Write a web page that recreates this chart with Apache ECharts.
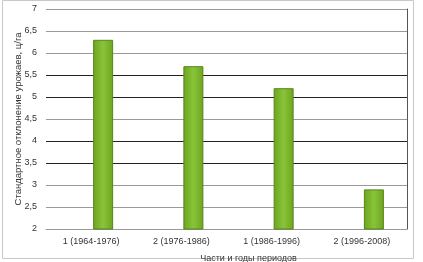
<!DOCTYPE html>
<html><head><meta charset="utf-8">
<script src="https://cdn.jsdelivr.net/npm/echarts@6/dist/echarts.min.js"></script>
<style>html,body{margin:0;padding:0;background:#fff}#c{width:423px;height:262px}</style>
</head><body><div id="c"></div>
<script>
const categories = ['1 (1964-1976)', '2 (1976-1986)', '1 (1986-1996)', '2 (1996-2008)'];
const values = [6.3, 5.7, 5.2, 2.9];
const emptySeries = [null, null, null, null];
const yTicks = [2, 2.5, 3, 3.5, 4, 4.5, 5, 5.5, 6, 6.5, 7];
const gridColors = ['#999','#999','#999','#222','#222','#999','#222','#222','#999','#999','#999'];

const chart = echarts.init(document.getElementById('c'));
const font = 'Liberation Sans';
chart.setOption({
  animation: false,
  textStyle: {fontFamily: font},
  graphic: [{type:'rect', shape:{x:2.5,y:0.5,width:411,height:258}, style:{fill:'none', stroke:'#c8c8c8', lineWidth:1}, silent:true}],
  grid: {left: 46, right: 16, top: 9, bottom: 33, outerBoundsMode: 'none', containLabel: false},
  xAxis: {
    type: 'category', data: categories,
    axisLine: {lineStyle: {color: '#999'}},
    axisTick: {show: false},
    axisLabel: {color: '#333', fontSize: 9, margin: 8, interval: 0},
    name: 'Части и годы периодов', nameLocation: 'middle', nameGap: 25, nameMoveOverlap: false,
    nameTextStyle: {color: '#333', fontSize: 9, padding: [0, 0, 0, 44]}
  },
  yAxis: [{
    type: 'value', min: 2, max: 7, interval: 0.5,
    axisLine: {show: false}, axisTick: {show: false},
    axisLabel: {color: '#333', fontSize: 9, margin: 9, formatter: v => String(v).replace('.', ',')},
    splitLine: {lineStyle: {color: gridColors, width: 1}},
    name: 'Стандартное отклонение урожаев, ц/га', nameLocation: 'middle', nameGap: 23, nameMoveOverlap: false,
    nameTextStyle: {color: '#333', fontSize: 9.5}
  }, {
    type: 'value', min: 2, max: 7, interval: 0.5, position: 'right',
    axisLine: {show: true, lineStyle: {color: '#555'}}, axisTick: {show: false},
    axisLabel: {show: false}, splitLine: {show: false}
  }],
  series: [{
    type: 'bar', data: emptySeries, barWidth: 20, barGap: '20%'
  }, {
    type: 'bar', data: values, barWidth: 20, barGap: '20%',
    itemStyle: {
      color: {type:'linear', x:0, y:0, x2:1, y2:0, colorStops:[{offset:0,color:'#6ea41e'},{offset:0.5,color:'#88c43a'},{offset:1,color:'#6ea41e'}]},
      borderColor: '#55861a', borderWidth: 1
    }
  }]
});
</script></body></html>
